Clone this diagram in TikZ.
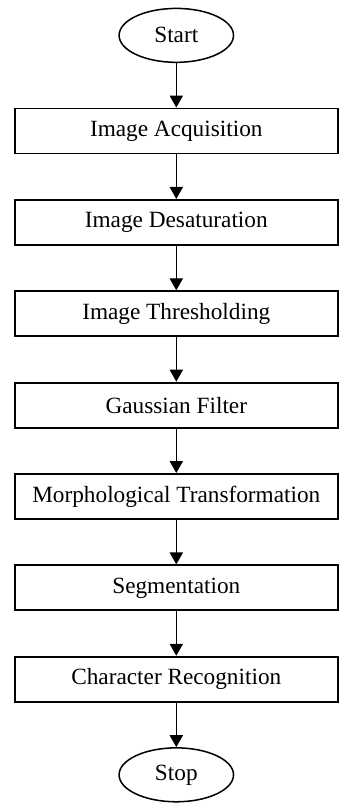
\documentclass[tikz,border=0pt]{standalone}
\usepackage{fontspec}
\setmainfont{Liberation Serif}
\usetikzlibrary{positioning,shapes.geometric,arrows.meta}

\begin{document}
\begin{tikzpicture}[node distance=23.5pt,
    terminal/.style={ellipse,draw,line width=0.8pt,minimum width=60.5pt,minimum height=28.5pt,inner sep=0pt},
    process/.style={rectangle,draw,line width=1pt,minimum width=170.5pt,minimum height=23.8pt,inner sep=0pt},
    font=\fontsize{12.3}{14}\selectfont]
      \useasboundingbox (-93.2pt,18.7pt) rectangle (86.4pt,-405.8pt);
      \node[terminal] (start) {Start};
      \node[process] (acq) [below=of start] {Image Acquisition};
      \node[process] (desat) [below=of acq] {Image Desaturation};
      \node[process] (thresh) [below=of desat] {Image Thresholding};
      \node[process] (gauss) [below=of thresh] {Gaussian Filter};
      \node[process] (morph) [below=of gauss] {Morphological Transformation};
      \node[process] (seg) [below=of morph] {Segmentation};
      \node[process] (recog) [below=of seg] {Character Recognition};
      \node[terminal] (stop) [below=of recog] {Stop};
      \path[-{Triangle[length=6.3pt,width=7pt]},line width=0.6pt]
      (start) edge (acq)
      (acq) edge (desat)
      (desat) edge (thresh)
      (thresh) edge (gauss)
      (gauss) edge (morph)
      (morph) edge (seg)
      (seg) edge (recog)
      (recog) edge (stop);
    \end{tikzpicture}
\end{document}
